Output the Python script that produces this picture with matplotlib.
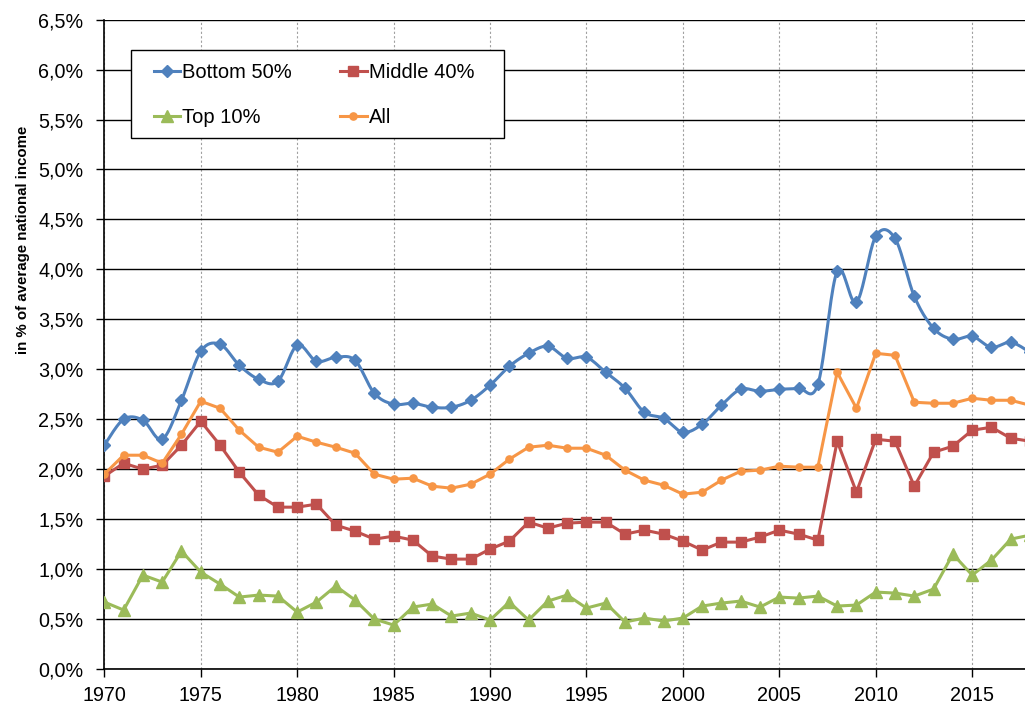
import numpy as np
import matplotlib
matplotlib.use('Agg')
import matplotlib.pyplot as plt
from matplotlib.lines import Line2D
from matplotlib.patches import Rectangle
from matplotlib.ticker import FuncFormatter

plt.rcParams['font.family'] = ['Liberation Sans', 'DejaVu Sans']

years = list(range(1970, 2019))

bottom50 = [2.24, 2.50, 2.49, 2.30, 2.69, 3.18, 3.25, 3.04, 2.90, 2.88,
            3.24, 3.08, 3.12, 3.09, 2.76, 2.65, 2.66, 2.62, 2.62, 2.69,
            2.84, 3.03, 3.16, 3.23, 3.11, 3.12, 2.97, 2.81, 2.57, 2.51,
            2.37, 2.45, 2.64, 2.80, 2.78, 2.80, 2.81, 2.85, 3.98, 3.67,
            4.33, 4.31, 3.73, 3.41, 3.30, 3.33, 3.22, 3.27, 3.17]

middle40 = [1.93, 2.06, 2.00, 2.04, 2.24, 2.48, 2.24, 1.97, 1.74, 1.62,
            1.62, 1.65, 1.44, 1.38, 1.30, 1.33, 1.29, 1.13, 1.10, 1.10,
            1.20, 1.28, 1.47, 1.41, 1.46, 1.47, 1.47, 1.35, 1.39, 1.35,
            1.28, 1.19, 1.27, 1.27, 1.32, 1.39, 1.35, 1.29, 2.28, 1.77,
            2.30, 2.28, 1.83, 2.17, 2.23, 2.39, 2.42, 2.31, 2.28]

top10 = [0.67, 0.59, 0.94, 0.87, 1.18, 0.97, 0.85, 0.72, 0.74, 0.73,
         0.57, 0.67, 0.83, 0.69, 0.50, 0.44, 0.62, 0.65, 0.53, 0.56,
         0.49, 0.67, 0.49, 0.68, 0.74, 0.61, 0.66, 0.47, 0.51, 0.48,
         0.51, 0.63, 0.66, 0.68, 0.62, 0.72, 0.71, 0.73, 0.63, 0.64,
         0.77, 0.76, 0.73, 0.80, 1.15, 0.94, 1.09, 1.30, 1.34]

all_ = [1.95, 2.14, 2.14, 2.06, 2.35, 2.68, 2.61, 2.39, 2.22, 2.17,
        2.33, 2.27, 2.22, 2.16, 1.95, 1.90, 1.91, 1.83, 1.81, 1.85,
        1.95, 2.10, 2.22, 2.24, 2.21, 2.21, 2.14, 1.99, 1.89, 1.84,
        1.75, 1.77, 1.89, 1.98, 1.99, 2.03, 2.02, 2.02, 2.97, 2.61,
        3.16, 3.14, 2.67, 2.66, 2.66, 2.71, 2.69, 2.69, 2.64]

labels = ['Bottom 50%', 'Middle 40%', 'Top 10%', 'All']
c_blue = '#4F81BD'
c_red = '#C0504D'
c_green = '#9BBB59'
c_orange = '#F79646'


def excel_smooth(x, y, n=20):
    # bezier smoothing like excel's "smoothed line"
    x = np.asarray(x, float)
    y = np.asarray(y, float)
    px = np.concatenate([[x[0]], x, [x[-1]]])
    py = np.concatenate([[y[0]], y, [y[-1]]])
    xs, ys = [], []
    t = np.linspace(0, 1, n)
    for i in range(len(x) - 1):
        p0 = np.array([px[i + 1], py[i + 1]])
        p3 = np.array([px[i + 2], py[i + 2]])
        p1 = p0 + (p3 - np.array([px[i], py[i]])) / 6
        p2 = p3 - (np.array([px[i + 3], py[i + 3]]) - p0) / 6
        b = ((1 - t) ** 3)[:, None] * p0 + (3 * (1 - t) ** 2 * t)[:, None] * p1 \
            + (3 * (1 - t) * t ** 2)[:, None] * p2 + (t ** 3)[:, None] * p3
        xs.extend(b[:, 0])
        ys.extend(b[:, 1])
    return xs, ys


fig = plt.figure(figsize=(10.25, 7.06), dpi=100)
ax = fig.add_axes([0.1018, 0.0524, 0.8982, 0.9198])

lw = 2.2
sx, sy = excel_smooth(years, bottom50)
ax.plot(sx, sy, color=c_blue, lw=lw, zorder=5)
ax.plot(years, bottom50, ls='none', marker='D', ms=6, color=c_blue, zorder=6)
ax.plot(years, middle40, color=c_red, lw=lw, marker='s', ms=7.5, zorder=4)
ax.plot(years, top10, color=c_green, lw=lw, marker='^', ms=8, zorder=4)
ax.plot(years, all_, color=c_orange, lw=lw, marker='o', ms=5.2, zorder=4)

ax.set_xlim(1970, 2017.74)
ax.set_ylim(0, 6.5)
ax.set_yticks(np.arange(0, 6.51, 0.5))
ax.set_xticks(range(1970, 2016, 5))
ax.yaxis.set_major_formatter(FuncFormatter(lambda v, p: ('%.1f%%' % v).replace('.', ',')))
ax.tick_params(axis='y', labelsize=14.2, length=6, width=1, pad=9)
ax.tick_params(axis='x', labelsize=14.2, length=6, width=1, pad=6)

ax.grid(axis='y', color='black', lw=1)
ax.grid(axis='x', color='#a0a0a0', lw=0.8, ls=(0, (2, 2)))
ax.set_axisbelow(True)
for s in ['top', 'right']:
    ax.spines[s].set_visible(False)
for s in ['left', 'bottom']:
    ax.spines[s].set_linewidth(1.2)

fig.text(0.022, 1 - 240 / 706, 'in % of average national income', rotation=90,
         fontsize=10.8, fontweight='bold', ha='center', va='center')

# legend frame drawn separately (excel puts more space left of the handles)
ax.add_patch(Rectangle((0.029, 0.8177), 0.405, 0.1353, transform=ax.transAxes,
                       facecolor='white', edgecolor='black', lw=1, zorder=9))

h_blue = Line2D([], [], color=c_blue, lw=lw, marker='D', ms=6)
h_red = Line2D([], [], color=c_red, lw=lw, marker='s', ms=7.5)
h_green = Line2D([], [], color=c_green, lw=lw, marker='^', ms=8)
h_orange = Line2D([], [], color=c_orange, lw=lw, marker='o', ms=5.2)
# column-wise fill, so order gives rows: Bottom/Middle, Top/All
leg = ax.legend([h_blue, h_green, h_red, h_orange],
                [labels[0], labels[2], labels[1], labels[3]],
                ncol=2, loc='upper left',
                bbox_to_anchor=(0.054, 0.9325), fontsize=14.5, frameon=False,
                handlelength=1.3, handletextpad=0.1, columnspacing=2.4,
                labelspacing=1.25, borderpad=0, borderaxespad=0)
leg.set_zorder(10)

fig.savefig('out.png', dpi=100)
